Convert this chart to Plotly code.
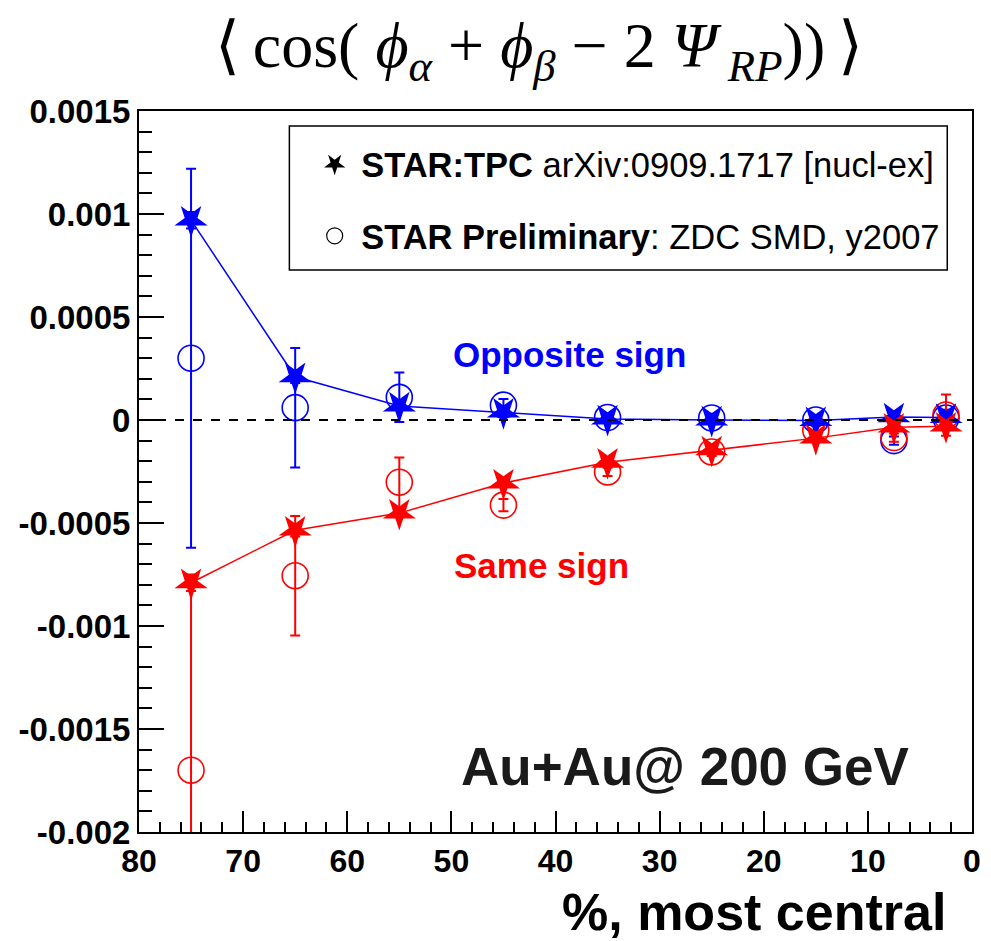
import plotly.graph_objects as go

# Centrality bins (% most central)
centrality = [75, 65, 55, 45, 35, 25, 15, 7.5, 2.5]

# STAR TPC results (filled stars)
tpc_opp = [0.00097, 0.00021, 0.000068, 0.000038, 0.000005, 0.0, -0.000003, 0.000015, 0.000012]
tpc_opp_err = [0.00004, 0.00003, 0.00002, 0.000005, 0.000005, 0.000005, 0.000005, 0.000005, 0.000005]
tpc_same = [-0.00079, -0.000535, -0.000452, -0.000306, -0.000205, -0.000145, -0.000088, -0.000035, -0.00003]
tpc_same_err = [0.00004, 0.00003, 0.00002, 0.000005, 0.000005, 0.000005, 0.000005, 0.000005, 0.000005]

# STAR preliminary ZDC-SMD results (open circles)
zdc_opp = [0.0003, 0.00006, 0.00011, 0.000072, 0.000012, 0.00001, 0.0, -0.0001, 0.00001]
zdc_opp_err = [0.00092, 0.00029, 0.00012, 0.00003, 0.00002, 0.00002, 0.00002, 0.00002, 0.00004]
zdc_same = [-0.0017, -0.000756, -0.000302, -0.000413, -0.000252, -0.000155, -0.00005, -0.000085, 0.000024]
zdc_same_err = [0.0009, 0.00029, 0.00012, 0.00003, 0.00002, 0.00002, 0.00002, 0.00002, 0.0001]

y_ticks = [0.0015, 0.001, 0.0005, 0, -0.0005, -0.001, -0.0015, -0.002]
y_tick_text = ["0.0015", "0.001", "0.0005", "0", "-0.0005", "-0.001", "-0.0015", "-0.002"]
x_ticks = [80, 70, 60, 50, 40, 30, 20, 10, 0]

BLUE = "#0000ff"
RED = "#ff0000"
FONT = "Liberation Sans, Arial, sans-serif"


def err(values, color):
    return dict(type="data", array=values, visible=True, color=color,
                thickness=2, width=5)


fig = go.Figure()

# open circles: ZDC SMD
for y, e, c in [(zdc_opp, zdc_opp_err, BLUE), (zdc_same, zdc_same_err, RED)]:
    fig.add_trace(go.Scatter(
        x=centrality, y=y, mode="markers", error_y=err(e, c),
        marker=dict(symbol="circle-open", size=26, color=c, line=dict(width=1.6, color=c)),
        showlegend=False, hoverinfo="skip"))

# filled stars: TPC, connected by lines
for y, e, c in [(tpc_opp, tpc_opp_err, BLUE), (tpc_same, tpc_same_err, RED)]:
    fig.add_trace(go.Scatter(
        x=centrality, y=y, mode="lines+markers", error_y=err(e, c),
        line=dict(color=c, width=1.5),
        marker=dict(symbol="star", angle=180, size=25, color=c),
        showlegend=False, hoverinfo="skip"))

# legend entries
fig.add_trace(go.Scatter(
    x=[None], y=[None], mode="markers", legendgroup="tpc",
    name="<b>STAR:TPC</b> arXiv:0909.1717 [nucl-ex]",
    marker=dict(symbol="star", angle=180, size=16, color="black")))
fig.add_trace(go.Scatter(
    x=[None], y=[None], mode="markers", legendgroup="zdc",
    name="<b>STAR Preliminary</b>: ZDC SMD, y2007",
    marker=dict(symbol="circle-open", size=16, color="black", line=dict(width=1.2, color="black"))))

# dashed zero line
fig.add_shape(type="line", xref="paper", x0=0, x1=1, yref="y", y0=0, y1=0,
              line=dict(color="black", width=2, dash="dash"))
# legend frame
fig.add_shape(type="rect", xref="paper", yref="paper",
              x0=(291 - 139) / 842, x1=(956 - 139) / 842,
              y0=(832 - 270) / 721, y1=(832 - 126) / 721,
              line=dict(color="black", width=1.5), fillcolor="rgba(0,0,0,0)")

fig.add_annotation(x=38.7, y=0.00032, xref="x", yref="y", text="<b>Opposite sign</b>",
                   showarrow=False, font=dict(family=FONT, size=35, color=BLUE))
fig.add_annotation(x=41.3, y=-0.000705, xref="x", yref="y", text="<b>Same sign</b>",
                   showarrow=False, font=dict(family=FONT, size=35, color=RED))
fig.add_annotation(x=27.6, y=-0.00168, xref="x", yref="y", text="<b>Au+Au@ 200 GeV</b>",
                   showarrow=False, font=dict(family=FONT, size=53, color="#1a1a1a"))
fig.add_annotation(x=(957 - 139) / 842, y=(832 - 912) / 721, xref="paper", yref="paper",
                   xanchor="right", yanchor="middle", text="<b>%, most central</b>",
                   showarrow=False, font=dict(family=FONT, size=52, color="black"))

title = ("⟨\u2009cos( <i>ϕ</i><sub><i>α</i></sub> + <i>ϕ</i><sub><i>β</i></sub>"
         " − 2 <i>Ψ</i><sub> <i>RP</i></sub>))\u2009⟩")

fig.update_layout(
    width=991, height=941,
    margin=dict(l=139, r=10, t=111, b=109),
    paper_bgcolor="white", plot_bgcolor="white",
    title=dict(text=title, x=(539 / 991), xanchor="center", y=1 - 45 / 941, yanchor="middle",
               font=dict(family="Liberation Serif, DejaVu Serif, serif", size=64, color="black")),
    legend=dict(x=(310 - 139) / 842, y=(832 - 135) / 721, xanchor="left", yanchor="top",
                bgcolor="rgba(0,0,0,0)", borderwidth=0, itemwidth=43,
                traceorder="grouped", tracegroupgap=24,
                font=dict(family=FONT, size=34.5, color="black")),
    xaxis=dict(range=[80, 0], tickvals=x_ticks, ticks="inside", ticklen=21, tickwidth=1.5,
               tickcolor="black", showgrid=False, zeroline=False, showline=True,
               linecolor="black", linewidth=2, mirror=True,
               tickfont=dict(family=FONT, size=32, color="black", weight="bold"),
               minor=dict(dtick=2, ticks="inside", ticklen=10, tickwidth=1.5, tickcolor="black",
                          showgrid=False)),
    yaxis=dict(range=[-0.002, 0.0015], tickvals=y_ticks, ticktext=y_tick_text,
               ticks="inside", ticklen=25, tickwidth=1.5, tickcolor="black",
               showgrid=False, zeroline=False, showline=True, linecolor="black",
               linewidth=2, mirror=True,
               tickfont=dict(family=FONT, size=33, color="black", weight="bold"),
               minor=dict(dtick=0.0001, tick0=0, ticks="inside", ticklen=13, tickwidth=1.5,
                          tickcolor="black", showgrid=False)),
)

fig.write_html("out.html")
